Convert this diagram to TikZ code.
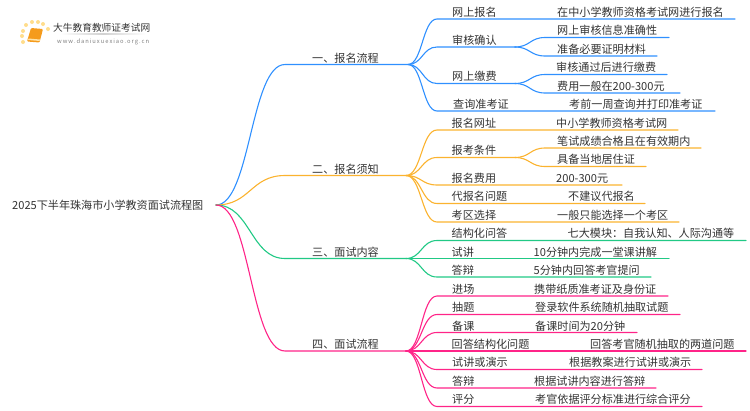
\documentclass[tikz,border=0pt]{standalone}
\usepackage{fontspec}
\setmainfont{Noto Sans CJK SC}
\usetikzlibrary{positioning, calc}
\definecolor{blueline}{HTML}{2F90FF}
\definecolor{orangeline}{HTML}{FBB32F}
\definecolor{greenline}{HTML}{21C985}
\definecolor{pinkline}{HTML}{FF2488}
\definecolor{booklogo}{HTML}{F59B1C}
\definecolor{pagelogo}{HTML}{FFE3A8}
\definecolor{dotlogo}{HTML}{FFDD8C}
\tikzset{
    txt/.style={anchor=west, inner sep=0pt, yshift=-1pt, text height=9pt, text depth=2pt, text=black!80, font=\fontsize{11.1}{13}\selectfont},
    link/.style={line width=1.1pt, line cap=round, to path={.. controls ($(\tikztostart)!0.5!(\tikztotarget |- \tikztostart)$) and ($(\tikztotarget)!0.5!(\tikztostart |- \tikztotarget)$) .. (\tikztotarget)}},
    bluelink/.style={link, draw=blueline},
    orangelink/.style={link, draw=orangeline},
    greenlink/.style={link, draw=greenline},
    pinklink/.style={link, draw=pinkline},
    logodot/.style={circle, fill=dotlogo, inner sep=0pt, minimum size=4pt}
}

\begin{document}
\begin{tikzpicture}[x=1pt, y=-1pt]
    \useasboundingbox (0,0) rectangle (750,410);

    % logo
    \node[logodot] (d1) at (23,42) {};
    \node[logodot] (d2) at (22,36) {};
    \node[logodot] (d3) at (23,31) {};
    \node[logodot] (d4) at (26,25) {};
    \node[logodot] (d5) at (32,22) {};
    \node[logodot] (d6) at (38,22) {};
    \node[logodot] (d7) at (43,24) {};
    \node[logodot] (d8) at (48,29) {};
    \fill[booklogo, rounded corners=1pt] (31,28) -- (43,29) -- (39.5,42.5) -- (27,41.5) -- cycle;
    \fill[pagelogo] (28.5,38.5) -- (40,39.5) -- (39.5,41) -- (28,40) -- cycle;
    \node[txt, font=\fontsize{9.7}{12}\selectfont] (logotitle) at (53,27) {大牛教育教师证考试网};
    \shade[left color=white, right color=white, middle color=black!18] (60,33) rectangle (146,34);
    \node[txt, text=black!50, font=\fontsize{5.8}{8}\selectfont, text height=5pt, text depth=1pt] (logourl) at (57,40) {w\,w\,w\,.\,d\,a\,n\,i\,u\,x\,u\,e\,x\,i\,a\,o\,.\,o\,r\,g\,.\,c\,n};

    % root
    \node[txt] (root) at (12,205) {2025下半年珠海市小学教资面试流程图};
    \coordinate (r) at (216,205);

    % main branches
    \node[txt] (m1) at (312,57.5) {一、报名流程};
    \node[txt] (m2) at (312,168.5) {二、报名须知};
    \node[txt] (m3) at (312,251.5) {三、面试内容};
    \node[txt] (m4) at (312,343.5) {四、面试流程};
    \coordinate (m1s) at (285,64.5);  \coordinate (j1) at (408,64.5);
    \coordinate (m2s) at (285,175.5); \coordinate (j2) at (406,175.5);
    \coordinate (m3s) at (285,258.5); \coordinate (j3) at (406,258.5);
    \coordinate (m4s) at (285,351);   \coordinate (j4) at (406,351);
    \draw[bluelink] (r) to (m1s) -- (j1);
    \draw[orangelink] (r) to (m2s) -- (j2);
    \draw[greenlink] (r) to (m3s) -- (j3);
    \draw[pinklink] (r) to (m4s) -- (j4);

    % first group
    \node[txt] (a1) at (452,11.5) {网上报名};
    \node[txt] (a1v) at (557,11.5) {在中小学教师资格考试网进行报名};
    \coordinate (a1s) at (437,19); \coordinate (a1e) at (735,19);
    \draw[bluelink] (j1) to (a1s) -- (a1e);

    \node[txt] (a2) at (452,39.5) {审核确认};
    \node[txt] (a2x) at (557,30) {网上审核信息准确性};
    \node[txt] (a2y) at (557,48.5) {准备必要证明材料};
    \coordinate (a2s) at (437,47); \coordinate (a2j) at (515,47);
    \coordinate (a2xs) at (545,37.5); \coordinate (a2xe) at (669,37.5);
    \coordinate (a2ys) at (545,56); \coordinate (a2ye) at (657,56);
    \draw[bluelink] (j1) to (a2s) -- (a2j);
    \draw[bluelink] (a2j) to (a2xs) -- (a2xe);
    \draw[bluelink] (a2j) to (a2ys) -- (a2ye);

    \node[txt] (a3) at (452,76) {网上缴费};
    \node[txt] (a3x) at (556,67) {审核通过后进行缴费};
    \node[txt] (a3y) at (557,85.5) {费用一般在200-300元};
    \coordinate (a3s) at (437,83.5); \coordinate (a3j) at (515,83.5);
    \coordinate (a3xs) at (545,74.5); \coordinate (a3xe) at (667,74.5);
    \coordinate (a3ys) at (545,93); \coordinate (a3ye) at (680,93);
    \draw[bluelink] (j1) to (a3s) -- (a3j);
    \draw[bluelink] (a3j) to (a3xs) -- (a3xe);
    \draw[bluelink] (a3j) to (a3ys) -- (a3ye);

    \node[txt] (a4) at (453,104) {查询准考证};
    \node[txt] (a4v) at (569,104) {考前一周查询并打印准考证};
    \coordinate (a4s) at (437,111); \coordinate (a4e) at (715,111);
    \draw[bluelink] (j1) to (a4s) -- (a4e);

    % second group
    \node[txt] (b1) at (451.5,122.5) {报名网址};
    \node[txt] (b1v) at (556,122.5) {中小学教师资格考试网};
    \coordinate (b1s) at (437,130); \coordinate (b1e) at (678,130);
    \draw[orangelink] (j2) to (b1s) -- (b1e);

    \node[txt] (b2) at (451.5,150) {报考条件};
    \node[txt] (b2x) at (557,141) {笔试成绩合格且在有效期内};
    \node[txt] (b2y) at (557,159) {具备当地居住证};
    \coordinate (b2s) at (437,157.5); \coordinate (b2j) at (515,157.5);
    \coordinate (b2xs) at (545,148); \coordinate (b2xe) at (701,148);
    \coordinate (b2ys) at (545,166.5); \coordinate (b2ye) at (646,166.5);
    \draw[orangelink] (j2) to (b2s) -- (b2j);
    \draw[orangelink] (b2j) to (b2xs) -- (b2xe);
    \draw[orangelink] (b2j) to (b2ys) -- (b2ye);

    \node[txt] (b3) at (451.5,177.5) {报名费用};
    \node[txt] (b3v) at (556,177.5) {200-300元};
    \coordinate (b3s) at (437,185); \coordinate (b3e) at (622,185);
    \draw[orangelink] (j2) to (b3s) -- (b3e);

    \node[txt] (b4) at (451.5,196) {代报名问题};
    \node[txt] (b4v) at (568,196) {不建议代报名};
    \coordinate (b4s) at (437,203.5); \coordinate (b4e) at (645,203.5);
    \draw[orangelink] (j2) to (b4s) -- (b4e);

    \node[txt] (b5) at (451.5,214.5) {考区选择};
    \node[txt] (b5v) at (557,214.5) {一般只能选择一个考区};
    \coordinate (b5s) at (437,222); \coordinate (b5e) at (679,222);
    \draw[orangelink] (j2) to (b5s) -- (b5e);

    % third group
    \node[txt] (c1) at (451.5,233) {结构化问答};
    \node[txt] (c1v) at (567.5,233) {七大模块：自我认知、人际沟通等};
    \coordinate (c1s) at (437,240.5); \coordinate (c1e) at (746,240.5);
    \draw[greenlink] (j3) to (c1s) -- (c1e);

    \node[txt] (c2) at (451.5,251.5) {试讲};
    \node[txt] (c2v) at (533.5,251.5) {10分钟内完成一堂课讲解};
    \coordinate (c2e) at (669,258.5);
    \draw[greenlink] (j3) -- (c2e);

    \node[txt] (c3) at (451.5,270) {答辩};
    \node[txt] (c3v) at (533.5,270) {5分钟内回答考官提问};
    \coordinate (c3s) at (437,277); \coordinate (c3e) at (651,277);
    \draw[greenlink] (j3) to (c3s) -- (c3e);

    % fourth group
    \node[txt] (d1t) at (452,288.5) {进场};
    \node[txt] (d1v) at (534,288.5) {携带纸质准考证及身份证};
    \coordinate (d1s) at (437,296); \coordinate (d1e) at (668,296);
    \draw[pinklink] (j4) to (d1s) -- (d1e);

    \node[txt] (d2t) at (452,307) {抽题};
    \node[txt] (d2v) at (535,307) {登录软件系统随机抽取试题};
    \coordinate (d2s) at (437,314.5); \coordinate (d2e) at (680,314.5);
    \draw[pinklink] (j4) to (d2s) -- (d2e);

    \node[txt] (d3t) at (452,325.5) {备课};
    \node[txt] (d3v) at (535,325.5) {备课时间为20分钟};
    \coordinate (d3s) at (437,332.5); \coordinate (d3e) at (637,332.5);
    \draw[pinklink] (j4) to (d3s) -- (d3e);

    \node[txt] (d4t) at (451.5,344) {回答结构化问题};
    \node[txt] (d4v) at (590,344) {回答考官随机抽取的两道问题};
    \coordinate (d4e) at (746,351);
    \draw[pinklink] (j4) -- (d4e);

    \node[txt] (d5t) at (452,362) {试讲或演示};
    \node[txt] (d5v) at (569,362) {根据教案进行试讲或演示};
    \coordinate (d5s) at (437,369.5); \coordinate (d5e) at (702,369.5);
    \draw[pinklink] (j4) to (d5s) -- (d5e);

    \node[txt] (d6t) at (452,380.5) {答辩};
    \node[txt] (d6v) at (534,380.5) {根据试讲内容进行答辩};
    \coordinate (d6s) at (437,388); \coordinate (d6e) at (656,388);
    \draw[pinklink] (j4) to (d6s) -- (d6e);

    \node[txt] (d7t) at (452,399) {评分};
    \node[txt] (d7v) at (535,399) {考官依据评分标准进行综合评分};
    \coordinate (d7s) at (437,406.5); \coordinate (d7e) at (702,406.5);
    \draw[pinklink] (j4) to (d7s) -- (d7e);
\end{tikzpicture}
\end{document}
